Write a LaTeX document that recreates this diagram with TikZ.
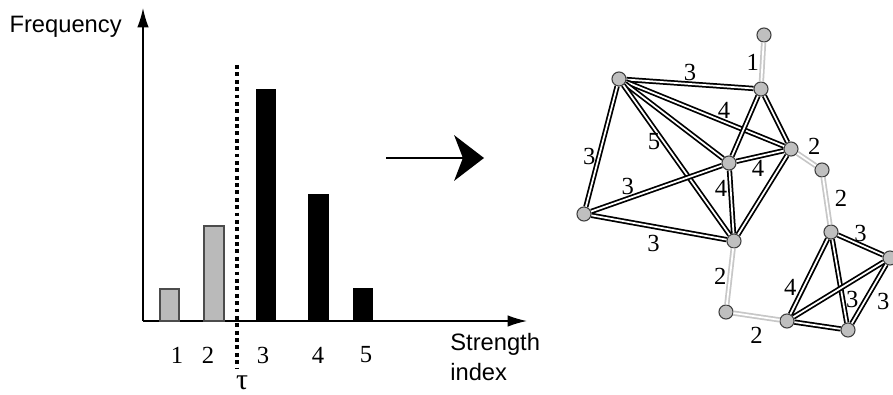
\documentclass[tikz,border=0pt]{standalone}
\usepackage{fontspec}
\setmainfont{Liberation Serif}
\newfontfamily\axisfont{Liberation Sans}
\usetikzlibrary{arrows.meta}

\tikzset{
  vertex/.style={circle, draw=black!75, fill=black!25, line width=0.6pt, minimum size=8pt, inner sep=0pt},
  strong/.style={draw=black, line width=1pt, double=white, double distance=1pt},
  weak/.style={draw=black!22, line width=1pt, double=white, double distance=1pt},
  wlabel/.style={font=\fontsize{14}{16}\selectfont, inner sep=1.5pt},
  axislabel/.style={font=\axisfont\fontsize{13.5}{17}\selectfont, inner sep=0pt},
  lowbar/.style={draw=black!70, fill=black!27, line width=0.6pt},
  highbar/.style={fill=black},
}

\begin{document}
\begin{tikzpicture}[x=0.02cm, y=-0.02cm, >={Latex[length=11pt,width=6.5pt]}]
    \useasboundingbox (0,0) rectangle (893,395);
    % 1. Axes
    \draw[->, line width=0.8pt] (143,321) -- (143,8);
    \draw[->, line width=0.8pt] (143,321) -- (527,321);
    \node[axislabel, anchor=east] (freq) at (122,27) {Frequency};
    \node[axislabel, anchor=north west, align=left] (strength) at (450,333) {Strength\\index};

    % 2. Bars
    \draw[lowbar] (160,321) rectangle (179,289);
    \draw[lowbar] (204,321) rectangle (224,226);
    \fill[highbar] (256,321) rectangle (276,89);
    \fill[highbar] (308,321) rectangle (329,194);
    \fill[highbar] (353,321) rectangle (373,288);
    \foreach \x/\k in {177/1, 208/2, 263/3, 318/4, 366/5}
        \node[wlabel] (tick\k) at (\x,355) {\k};

    % 3. Threshold
    \draw[line width=2.4pt, dash pattern=on 2.2pt off 2pt] (237,65) -- (237,368);
    \node[font=\fontsize{17}{19}\selectfont, inner sep=0pt, anchor=base] (tau) at (242,389) {τ};

    % 4. Arrow
    \coordinate (arrowstart) at (386,158);
    \coordinate (arrowend) at (484,158);
    \draw[-{Stealth[length=17pt,width=26pt,inset=5pt]}, line width=0.9pt] (arrowstart) -- (arrowend);

    % 5. Graph
    \node[vertex] (T) at (764,35) {};
    \node[vertex] (A) at (619,79) {};
    \node[vertex] (B) at (761,89) {};
    \node[vertex] (C) at (791,149) {};
    \node[vertex] (N) at (822,170) {};
    \node[vertex] (D) at (729,163) {};
    \node[vertex] (E) at (584,214) {};
    \node[vertex] (F) at (734,241) {};
    \node[vertex] (G) at (726,312) {};
    \node[vertex] (H) at (787,321) {};
    \node[vertex] (I) at (831,232) {};
    \node[vertex] (J) at (890,258) {};
    \node[vertex] (K) at (848,330) {};

    \draw[weak] (T) -- node[wlabel, left] (wTB) {1} (B);
    \draw[weak] (C) -- node[wlabel, pos=0.4, above right] (wCN) {2} (N);
    \draw[weak] (N) -- node[wlabel, pos=0.45, right=3pt] (wNI) {2} (I);
    \draw[weak] (F) -- node[wlabel, left] (wFG) {2} (G);
    \draw[weak] (G) -- node[wlabel, below=4pt] (wGH) {2} (H);

    \draw[strong] (A) -- node[wlabel, above] (wAB) {3} (B);
    \draw[strong] (A) -- node[wlabel, pos=0.62, above] (wAC) {4} (C);
    \draw[strong] (A) -- (D);
    \draw[strong] (A) -- node[wlabel, pos=0.38, left] (wAF) {5} (F);
    \draw[strong] (A) -- node[wlabel, pos=0.58, left] (wAE) {3} (E);
    \draw[strong] (B) -- (D);
    \draw[strong] (B) -- (C);
    \draw[strong] (D) -- node[wlabel, pos=0.46, below] (wDC) {4} (C);
    \draw[strong] (D) -- node[wlabel, pos=0.28, left] (wDF) {4} (F);
    \draw[strong] (C) -- (F);
    \draw[strong] (E) -- node[wlabel, pos=0.28, above] (wED) {3} (D);
    \draw[strong] (E) -- node[wlabel, pos=0.46, below=3pt] (wEF) {3} (F);

    \draw[strong] (I) -- node[wlabel, pos=0.65, left=2pt] (wIH) {4} (H);
    \draw[strong] (I) -- node[wlabel, pos=0.72, right] (wIK) {3} (K);
    \draw[strong] (I) -- node[wlabel, above] (wIJ) {3} (J);
    \draw[strong] (H) -- (J);
    \draw[strong] (H) -- (K);
    \draw[strong] (J) -- node[wlabel, pos=0.62, right=5pt] (wJK) {3} (K);
\end{tikzpicture}
\end{document}
